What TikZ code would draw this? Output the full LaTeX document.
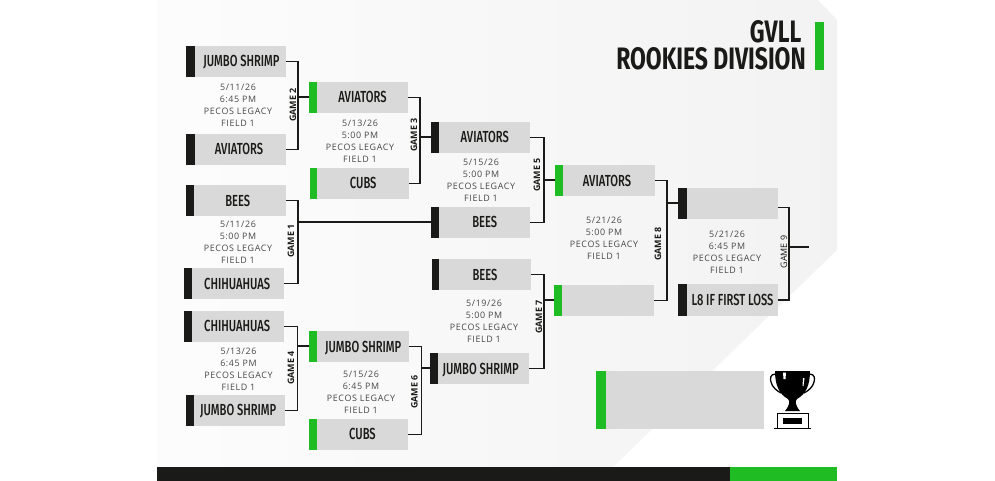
\documentclass[tikz,border=0pt]{standalone}
\usepackage{fontspec}
\setmainfont[LetterSpace=7]{Open Sans}
\newfontfamily\plainfont{Open Sans}
\newfontfamily\teamfont[FakeStretch=0.7]{Fira Sans Medium}
\newfontfamily\titlefont[FakeStretch=0.74,BoldFont={Fira Sans Bold}]{Fira Sans}
\definecolor{ink}{HTML}{1A1A18}
\definecolor{boxgray}{HTML}{D9D9D9}
\definecolor{lime}{HTML}{1FBD23}
\tikzset{
 teambox/.style={fill=boxgray,inner sep=0pt,text height=10.6pt,text depth=0pt,font=\teamfont\fontsize{16}{16}\selectfont,text=ink},
 link/.style={draw=ink,line width=1.4pt,line cap=butt,line join=miter},
 gamelabel/.style={rotate=90,font=\plainfont\bfseries\fontsize{8.9}{9}\selectfont,text=ink,inner sep=0pt},
 info/.style={font=\fontsize{8.9}{12.1}\selectfont,text=black!72,align=center,inner sep=0pt},
 titletext/.style={anchor=east,inner sep=0pt,align=right,font=\titlefont\bfseries\fontsize{31}{26.5}\selectfont,text=ink},
}
% name, bar left, bar right, box right, top, bottom, bar colour, text
\newcommand{\teamrow}[8]{%
 \path[fill=#7] (#2,#5) rectangle (#3,#6);
 \node[teambox,minimum width={(#4-#3)*1pt},minimum height={(#6-#5)*1pt},anchor=north west] (#1) at (#3,#5) {#8};
 \coordinate (#1bar) at (#2,{(#5+#6)/2});
}
\begin{document}
\begin{tikzpicture}[x=1pt,y=-1pt]
\useasboundingbox (0,0) rectangle (995,481);
\path[fill=white] (0,0) rectangle (995,481);
\shade[left color=white!99!black,right color=black!5] (157,0) -- (818,0) -- (837,20) -- (837,250) -- (613,467) -- (157,467) -- cycle;
\path[fill=ink] (157,467) rectangle (730,481);
\path[fill=lime] (730,467) rectangle (837,481);
% title
\node[titletext] (t1) at (806,45.5) {GVLL\kern4.5pt\\ROOKIES DIVISION};
\path[fill=lime] (815,22) rectangle (823.5,70);
% round 1
\teamrow{a}{186}{194.5}{286}{46}{77}{ink}{\kern2pt JUMBO SHRIMP}
\teamrow{b}{186}{194.5}{286}{134}{165}{ink}{\kern-3pt AVIATORS}
\teamrow{c}{186}{193.5}{285.5}{185}{216}{ink}{\kern-4pt BEES}
\teamrow{d}{184}{192}{284}{268}{299}{ink}{\kern-2pt CHIHUAHUAS}
\teamrow{e}{184}{192}{284}{311}{341.5}{ink}{\kern-2pt CHIHUAHUAS}
\teamrow{f}{185.5}{194}{285}{394.5}{425.5}{ink}{\kern-3pt JUMBO SHRIMP}
% round 2
\teamrow{g}{308.5}{316.5}{408}{82}{113}{lime}{AVIATORS}
\teamrow{h}{310}{317}{409}{168}{199}{lime}{CUBS}
\teamrow{i}{309}{317}{409}{331}{362}{lime}{JUMBO SHRIMP}
\teamrow{j}{309}{316.5}{408}{419}{449.5}{lime}{CUBS}
% round 3
\teamrow{k}{431}{439}{530}{122}{153}{ink}{AVIATORS}
\teamrow{l}{430.5}{439}{530}{207}{237.5}{ink}{BEES}
\teamrow{m}{431.5}{439}{530.5}{259}{290}{ink}{BEES}
\teamrow{n}{430}{438}{529}{353}{384}{ink}{\kern-6pt JUMBO SHRIMP}
% round 4
\teamrow{o}{555}{563}{654.5}{165}{196}{lime}{\kern-4pt AVIATORS}
\teamrow{p}{554}{562}{654}{285}{316}{lime}{}
% final
\teamrow{q}{678}{686.5}{778}{188}{219}{ink}{}
\teamrow{r}{678}{686.5}{778}{284}{315.5}{ink}{L8 IF FIRST LOSS}
% champion
\teamrow{s}{596}{606}{764}{371}{429}{lime}{}
% connectors
\coordinate (j2) at (298,97); \coordinate (j3) at (420,137);
\coordinate (j1) at (298,222); \coordinate (j4) at (297.5,346);
\coordinate (j6) at (421.5,368); \coordinate (j5) at (544,180);
\coordinate (j7) at (544,300); \coordinate (j8) at (667,203);
\coordinate (j9) at (789,247); \coordinate (out9) at (809,247);
\draw[link] (a.east) -| (j2) |- (b.east); \draw[link] (j2) -- (j2 -| gbar);
\draw[link] (g.east) -| (j3) |- (h.east); \draw[link] (j3) -- (j3 -| kbar);
\draw[link] (c.east) -| (j1) |- (d.east); \draw[link] (j1) -- (j1 -| lbar);
\draw[link] (e.east) -| (j4) |- (f.east); \draw[link] (j4) -- (j4 -| ibar);
\draw[link] (i.east) -| (j6) |- (j.east); \draw[link] (j6) -- (j6 -| nbar);
\draw[link] (k.east) -| (j5) |- (l.east); \draw[link] (j5) -- (j5 -| obar);
\draw[link] (m.east) -| (j7) |- (n.east); \draw[link] (j7) -- (j7 -| pbar);
\draw[link] (o.east) -| (j8) |- (p.east); \draw[link] (j8) -- (j8 -| qbar);
\draw[link] ([yshift=-4pt]q.east) -| (j9) |- (r.east); \draw[link] (j9) -- (out9);
% game labels
\node[gamelabel] (g1) at (291,241) {GAME 1};
\node[gamelabel] (g2) at (293,105) {GAME 2};
\node[gamelabel] (g3) at (414,135) {GAME 3};
\node[gamelabel] (g4) at (291,368) {GAME 4};
\node[gamelabel] (g5) at (537,175) {GAME 5};
\node[gamelabel] (g6) at (414.5,392) {GAME 6};
\node[gamelabel] (g7) at (539,317) {GAME 7};
\node[gamelabel] (g8) at (658,244) {GAME 8};
\node[gamelabel,font=\plainfont\fontsize{8.9}{9}\selectfont] (g9) at (784,252) {GAME 9};
% schedule text
\node[info] (s2) at (238,105) {5/11/26\\6:45 PM\\PECOS LEGACY\\FIELD 1};
\node[info] (s3) at (360,141.5) {5/13/26\\5:00 PM\\PECOS LEGACY\\FIELD 1};
\node[info] (s1) at (238,242) {5/11/26\\5:00 PM\\PECOS LEGACY\\FIELD 1};
\node[info] (s4) at (238.5,369) {5/13/26\\6:45 PM\\PECOS LEGACY\\FIELD 1};
\node[info] (s6) at (361,392) {5/15/26\\6:45 PM\\PECOS LEGACY\\FIELD 1};
\node[info] (s5) at (481,180) {5/15/26\\5:00 PM\\PECOS LEGACY\\FIELD 1};
\node[info] (s7) at (484,321) {5/19/26\\5:00 PM\\PECOS LEGACY\\FIELD 1};
\node[info] (s8) at (604,238) {5/21/26\\5:00 PM\\PECOS LEGACY\\FIELD 1};
\node[info] (s9) at (727,252.5) {5/21/26\\6:45 PM\\PECOS LEGACY\\FIELD 1};
% trophy
\path[fill=black] (775,371) -- (810,371) .. controls (810,385) and (806,394) .. (797,399) .. controls (795,401) and (795,405) .. (800,411) -- (785,411) .. controls (790,405) and (790,401) .. (788,399) .. controls (779,394) and (775,385) .. (775,371) -- cycle;
\draw[black,line width=1.3pt] (775.5,374) .. controls (770,374) and (770,379) .. (771,382) .. controls (772,387) and (777,391) .. (781,393);
\draw[black,line width=1.3pt] (809.5,374) .. controls (815,374) and (815,379) .. (814,382) .. controls (813,387) and (808,391) .. (804,393);
\path[fill=white] (783,372.5) -- (786,372.5) -- (785.5,379) -- (783.5,379) -- cycle;
\path[fill=white] (803,378) -- (804.5,378) -- (803.5,386) -- (802.5,386) -- cycle;
\draw[black,line width=1pt] (777.5,428.5) -- (777.5,413.5) -- (808,413.5) -- (808,428.5);
\draw[black,line width=1.2pt] (774,428.5) -- (811,428.5);
\path[fill=black] (783,418) rectangle (802,424);
\end{tikzpicture}
\end{document}
